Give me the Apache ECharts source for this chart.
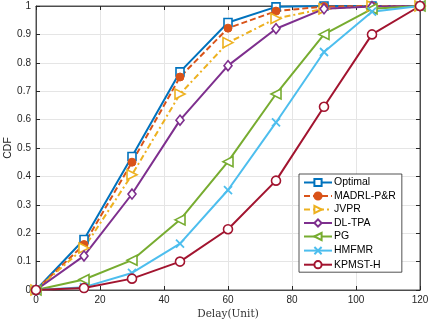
<!DOCTYPE html>
<html>
<head>
<meta charset="utf-8">
<script src="https://cdn.jsdelivr.net/npm/echarts@6/dist/echarts.min.js"></script>
<style>
  html, body { margin: 0; padding: 0; background: #fff; }
  #chart { width: 429px; height: 322px; }
</style>
</head>
<body>
<div id="chart"></div>
<script>
// delay values (Unit) and CDF values
const delays = [0, 15, 30, 45, 60, 75, 90, 105, 120]
const optimal = [0, 0.178, 0.47, 0.768, 0.942, 0.997, 1, 1, 1]
const madrl = [0, 0.16, 0.45, 0.75, 0.922, 0.982, 0.998, 1, 1]
const jvpr = [0, 0.148, 0.406, 0.69, 0.871, 0.956, 0.99, 1, 1]
const dltpa = [0, 0.12, 0.338, 0.598, 0.79, 0.92, 0.99, 0.998, 1]
const pg = [0, 0.037, 0.105, 0.247, 0.452, 0.69, 0.9, 0.99, 1]
const hmfmr = [0, 0.01, 0.06, 0.163, 0.352, 0.59, 0.838, 0.98, 1]
const kpmst = [0, 0.007, 0.04, 0.1, 0.214, 0.385, 0.645, 0.9, 1]

const axisCol = '#262626'
const font = 'Liberation Sans, Arial, sans-serif'

function pts(ys) { return delays.map((x, i) => [x, ys[i]]) }

function mk(name, ys, color, symbol, opt) {
  return Object.assign({
    name,
    type: 'line',
    data: pts(ys),
    symbol,
    symbolSize: 8,
    showAllSymbol: true,
    lineStyle: { color, width: 2 },
    itemStyle: { color: '#fff', borderColor: color, borderWidth: 1.6 },
    emphasis: { disabled: true },
    z: 3
  }, opt || {})
}

const series = [
  mk('Optimal', optimal, '#0072BD', 'rect', { symbolSize: 8 }),
  mk('MADRL-P&R', madrl, '#D95319', 'circle', {
    lineStyle: { color: '#D95319', width: 2, type: [6, 3] },
    itemStyle: { color: '#D95319', borderColor: '#D95319', borderWidth: 1 }
  }),
  mk('JVPR', jvpr, '#EDB120', 'triangle', {
    symbolRotate: -90, symbolSize: 10,
    lineStyle: { color: '#EDB120', width: 2, type: [6, 3, 2, 3] }
  }),
  mk('DL-TPA', dltpa, '#7E2F8E', 'diamond', { symbolSize: [8, 10] }),
  mk('PG', pg, '#77AC30', 'triangle', { symbolRotate: 90, symbolSize: 10 }),
  mk('HMFMR', hmfmr, '#4DBEEE', 'path://M0,0L10,10M10,0L0,10', {
    itemStyle: { color: 'none', borderColor: '#4DBEEE', borderWidth: 1.8 }
  }),
  mk('KPMST-H', kpmst, '#A2142F', 'circle', { symbolSize: 9 })
]

const chart = echarts.init(document.getElementById('chart'))
chart.setOption({
  animation: false,
  backgroundColor: '#fff',
  grid: {
    left: 36, right: 9, top: 6, bottom: 32,
    containLabel: false, outerBoundsMode: 'none',
    show: true, borderColor: axisCol, borderWidth: 0.8, backgroundColor: 'transparent'
  },
  legend: {
    orient: 'vertical',
    left: 299, top: 174,
    width: 100,
    padding: [3, 6, 2, 4],
    itemGap: 2.5,
    itemWidth: 28,
    itemHeight: 9,
    backgroundColor: '#fff',
    borderColor: axisCol,
    borderWidth: 0.8,
    textStyle: { fontFamily: font, fontSize: 10.5, color: '#000', padding: [0, 0, 0, -3] },
    data: series.map(s => s.name)
  },
  xAxis: [{
    type: 'value', min: 0, max: 120, interval: 20,
    name: 'Delay(Unit)', nameLocation: 'middle', nameGap: 19, nameMoveOverlap: false,
    nameTextStyle: { fontFamily: 'DejaVu Serif, Liberation Serif, serif', fontSize: 10.5, color: '#333' },
    axisLine: { show: true, onZero: false, lineStyle: { color: axisCol, width: 0.8 } },
    axisTick: { inside: true, length: 4, lineStyle: { color: axisCol } },
    axisLabel: { fontFamily: font, fontSize: 10, color: axisCol, margin: 5 },
    splitLine: { show: true, lineStyle: { color: '#e5e5e5', width: 1 } }
  }, {
    type: 'value', min: 0, max: 120, interval: 20, position: 'top',
    axisLine: { show: true, onZero: false, lineStyle: { color: axisCol, width: 0.8 } },
    axisTick: { inside: true, length: 4, lineStyle: { color: axisCol } },
    axisLabel: { show: false }, splitLine: { show: false }
  }],
  yAxis: [{
    type: 'value', min: 0, max: 1, interval: 0.1,
    name: 'CDF', nameLocation: 'middle', nameGap: 22, nameRotate: 90, nameMoveOverlap: false,
    nameTextStyle: { fontFamily: font, fontSize: 10.5, color: axisCol },
    axisLine: { show: true, onZero: false, lineStyle: { color: axisCol, width: 0.8 } },
    axisTick: { inside: true, length: 4, lineStyle: { color: axisCol } },
    axisLabel: { fontFamily: font, fontSize: 10, color: axisCol, margin: 5,
      formatter: v => String(Math.round(v * 10) / 10) },
    splitLine: { show: true, lineStyle: { color: '#e5e5e5', width: 1 } }
  }, {
    type: 'value', min: 0, max: 1, interval: 0.1, position: 'right',
    axisLine: { show: true, onZero: false, lineStyle: { color: axisCol, width: 0.8 } },
    axisTick: { inside: true, length: 4, lineStyle: { color: axisCol } },
    axisLabel: { show: false }, splitLine: { show: false }
  }],
  series
})
</script>
</body>
</html>
